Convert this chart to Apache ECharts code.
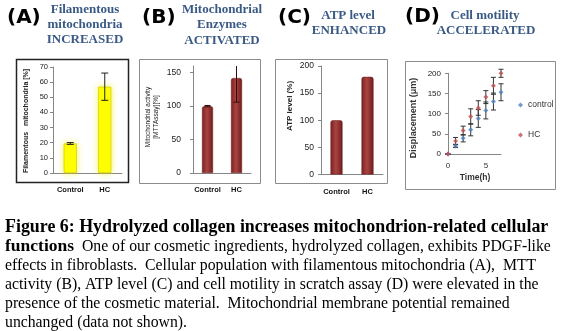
<!DOCTYPE html>
<html><head><meta charset="utf-8">
<script src="https://cdn.jsdelivr.net/npm/echarts@6/dist/echarts.min.js"></script>
<style>html,body{margin:0;padding:0;background:#fff}#c{width:561px;height:331px}</style>
</head><body><div id="c"></div>
<script>
// ---- data ----
const categories = ['Control', 'HC'];
const filamentous = [19.5, 57];
const filamentousErr = [0.6, 9];
const mttActivity = [100, 142];
const mttErr = [1, 36];
const atpLevel = [100, 180];
const timeH = [0, 1, 2, 3, 4, 5, 6, 7];
const controlDisp = [0, 20, 39, 60, 88, 108, 130, 153];
const controlErr = [0, 4, 9, 15, 22, 21, 21, 21];
const hcDisp = [0, 32, 58, 93, 114, 141, 169, 200];
const hcErr = [0, 9, 11, 19, 18, 16, 21, 10];
const seriesNames = ['control', 'HC'];
const captionLines = [
  'Figure 6: Hydrolyzed collagen increases mitochondrion-related cellular',
  '{b|functions}  One of our cosmetic ingredients, hydrolyzed collagen, exhibits PDGF-like',
  'effects in fibroblasts.  Cellular population with filamentous mitochondria (A),  MTT',
  'activity (B), ATP level (C) and cell motility in scratch assay (D) were elevated in the',
  'presence of the cosmetic material.  Mitochondrial membrane potential remained',
  'unchanged (data not shown).'
];

// ---- helpers ----
const AX = '#868686';
function errSeries(idx, xs, means, errs, capW, color, clip) {
  return {
    type: 'custom', xAxisIndex: idx, yAxisIndex: idx, clip: clip, z: 5,
    data: xs.map((x, i) => [x, means[i] - errs[i], means[i] + errs[i]]),
    renderItem: function (params, api) {
      const x = api.value(0);
      const lo = api.coord([x, api.value(1)]);
      const hi = api.coord([x, api.value(2)]);
      const st = { stroke: color, lineWidth: 1 };
      return { type: 'group', children: [
        { type: 'line', shape: { x1: lo[0], y1: lo[1], x2: hi[0], y2: hi[1] }, style: st },
        { type: 'line', shape: { x1: lo[0] - capW, y1: lo[1], x2: lo[0] + capW, y2: lo[1] }, style: st },
        { type: 'line', shape: { x1: hi[0] - capW, y1: hi[1], x2: hi[0] + capW, y2: hi[1] }, style: st }
      ]};
    }
  };
}
function catAxis(idx, margin) {
  return { type: 'category', gridIndex: idx, data: categories,
    axisLine: { lineStyle: { color: AX } },
    axisTick: { length: 3, lineStyle: { color: AX } },
    axisLabel: { interval: 0, margin: margin, fontSize: 7.5, fontWeight: 'bold', color: '#111', fontFamily: 'Liberation Sans' } };
}
function valAxis(idx, min, max, interval, fs, margin) {
  return { type: 'value', gridIndex: idx, min: min, max: max, interval: interval,
    axisLine: { show: true, lineStyle: { color: AX } },
    axisTick: { show: true, length: 3, lineStyle: { color: AX } },
    splitLine: { show: false },
    axisLabel: { fontSize: fs, color: '#222', margin: margin, fontFamily: 'Liberation Sans', showMaxLabel: max % interval === 0 } };
}
const redBar = {
  color: new echarts.graphic.LinearGradient(0, 0, 1, 0, [
    { offset: 0, color: '#7a2020' }, { offset: 0.45, color: '#a84442' }, { offset: 1, color: '#6e1c1c' }]),
  borderColor: '#6a1a1a', borderWidth: 0.5, borderRadius: [2, 2, 0, 0]
};
const TITLE = '#3a5a85';
function t(x, y, text, font, color, align) {
  return { type: 'text', x: x, y: y, z: 10,
    style: { text: text, font: font, fill: color, align: align || 'center', verticalAlign: 'middle' } };
}
function rect(x, y, w, h, stroke, lw) {
  return { type: 'rect', z: 0, shape: { x: x, y: y, width: w, height: h },
    style: { fill: '#fff', stroke: stroke, lineWidth: lw } };
}
const TF = 'bold 13px "Liberation Serif"';
const LF = 'bold 20px "DejaVu Sans"';

const graphics = [
  rect(16.5, 59.5, 112, 123, '#222', 1.5),
  rect(139.5, 59.5, 121, 124, '#8c8c8c', 1),
  rect(275.5, 59.5, 112, 124, '#8c8c8c', 1),
  rect(405.5, 61.5, 150, 128, '#8c8c8c', 1),
  t(7, 18, '(A)', LF, '#000', 'left'),
  t(85, 10, 'Filamentous', TF, TITLE), t(85, 25, 'mitochondria', TF, TITLE), t(85, 40, 'INCREASED', TF, TITLE),
  t(142, 18, '(B)', LF, '#000', 'left'),
  t(222, 10, 'Mitochondrial', TF, TITLE), t(222, 25, 'Enzymes', TF, TITLE), t(222, 41, 'ACTIVATED', TF, TITLE),
  t(278, 18, '(C)', LF, '#000', 'left'),
  t(348, 16, 'ATP level', TF, TITLE), t(349, 31, 'ENHANCED', TF, TITLE),
  t(405, 17, '(D)', LF, '#000', 'left'),
  t(485, 16, 'Cell motility', TF, TITLE), t(486, 31, 'ACCELERATED', TF, TITLE),
  // axis titles
  { type: 'text', x: 26, y: 121, rotation: Math.PI / 2, z: 10,
    style: { text: 'Filamentous   mitochondria [%]', font: 'bold 7px "Liberation Sans"', fill: '#222', align: 'center', verticalAlign: 'middle' } },
  { type: 'text', x: 152, y: 117, rotation: Math.PI / 2, z: 10,
    style: { text: 'Mitochondrial activity\n[MTTAssay][%]', font: '6.5px "Liberation Sans"', lineHeight: 8, fill: '#222', align: 'center', verticalAlign: 'middle' } },
  { type: 'text', x: 290, y: 106, rotation: Math.PI / 2, z: 10,
    style: { text: 'ATP level (%)', font: 'bold 8px "Liberation Sans"', fill: '#222', align: 'center', verticalAlign: 'middle' } },
  { type: 'text', x: 414, y: 118, rotation: Math.PI / 2, z: 10,
    style: { text: 'Displacement (μm)', font: 'bold 9px "Liberation Sans"', fill: '#333', align: 'center', verticalAlign: 'middle' } },
  t(475, 178, 'Time(h)', 'bold 8.5px "Liberation Sans"', '#333')
];
const capY = [227, 246.5, 265.5, 284.5, 303.5, 322.5];
captionLines.forEach((line, i) => {
  graphics.push({ type: 'text', x: 5, y: capY[i], z: 10,
    style: { text: line, font: (i === 0 ? 'bold 17.9px' : '15.75px') + ' "Liberation Serif"', fill: '#000',
      align: 'left', verticalAlign: 'middle',
      rich: { b: { font: 'bold 17.5px "Liberation Serif"', fill: '#000' } } } });
});

const chart = echarts.init(document.getElementById('c'), null, { renderer: 'canvas' });
chart.setOption({
  backgroundColor: '#fff',
  animation: false,
  grid: [
    { left: 53, top: 67, width: 69, height: 106 },
    { left: 193, top: 66, width: 58, height: 107 },
    { left: 321, top: 66, width: 62, height: 108.5 },
    { left: 448, top: 73.3, width: 53, height: 80.7 }
  ],
  xAxis: [
    catAxis(0, 13), catAxis(1, 13), catAxis(2, 13),
    { type: 'value', gridIndex: 3, min: 0, max: 7, interval: 5,
      axisLine: { lineStyle: { color: AX } }, axisTick: { show: false }, splitLine: { show: false },
      axisLabel: { fontSize: 8, color: '#333', margin: 8, showMaxLabel: false, fontFamily: 'Liberation Sans' } }
  ],
  yAxis: [
    valAxis(0, 0, 70, 10, 7.5, 5),
    valAxis(1, 0, 160, 50, 8.5, 12),
    valAxis(2, 0, 200, 50, 8.5, 7),
    valAxis(3, 0, 200, 50, 8, 7)
  ],
  legend: { data: seriesNames, orient: 'vertical', left: 513, top: 95.5, itemGap: 21,
    icon: 'diamond', itemWidth: 5, itemHeight: 5,
    textStyle: { fontSize: 8.5, color: '#333', fontFamily: 'Liberation Sans' } },
  graphic: graphics,
  series: [
    { type: 'bar', xAxisIndex: 0, yAxisIndex: 0, data: filamentous, barWidth: 13,
      itemStyle: { color: '#ffff00', borderColor: '#c8c000', borderWidth: 0.6, shadowBlur: 6, shadowColor: 'rgba(240,240,0,0.7)' } },
    errSeries(0, [0, 1], filamentous, filamentousErr, 3.5, '#222', true),
    { type: 'bar', xAxisIndex: 1, yAxisIndex: 1, data: mttActivity, barWidth: 11, itemStyle: redBar },
    errSeries(1, [0, 1], mttActivity, mttErr, 3, '#3a0a0a', true),
    { type: 'bar', xAxisIndex: 2, yAxisIndex: 2, data: atpLevel, barWidth: 12, itemStyle: redBar },
    errSeries(3, timeH, controlDisp, controlErr, 2.5, '#333', false),
    errSeries(3, timeH, hcDisp, hcErr, 2.5, '#333', false),
    { name: seriesNames[0], type: 'scatter', xAxisIndex: 3, yAxisIndex: 3, symbol: 'diamond', symbolSize: 5, z: 6,
      data: timeH.map((x, i) => [x, controlDisp[i]]), itemStyle: { color: '#4f81bd' } },
    { name: seriesNames[1], type: 'scatter', xAxisIndex: 3, yAxisIndex: 3, symbol: 'diamond', symbolSize: 5, z: 6,
      data: timeH.map((x, i) => [x, hcDisp[i]]), itemStyle: { color: '#c0504d' } }
  ]
});
</script></body></html>
